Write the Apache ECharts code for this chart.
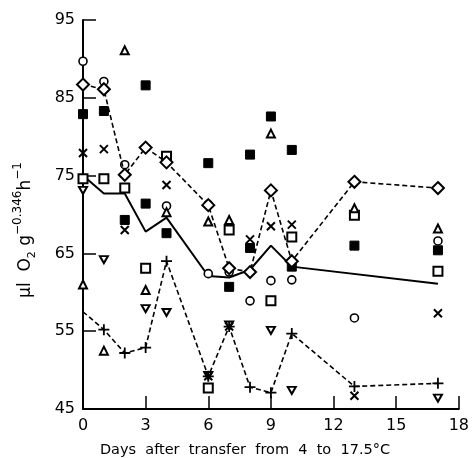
<!DOCTYPE html>
<html>
<head>
<meta charset="utf-8">
<script src="https://cdn.jsdelivr.net/npm/echarts@6/dist/echarts.min.js"></script>
<style>
  html, body { margin: 0; padding: 0; background: #fff; }
  #chart { width: 472px; height: 458px; }
</style>
</head>
<body>
<div id="chart"></div>
<script>
// ---- data: [day, value] ----
const xTicks = [0, 3, 6, 9, 12, 15, 18];
const yTicks = [45, 55, 65, 75, 85, 95];

const meanLine = [[0,75.0],[1,72.7],[2,72.7],[3,67.8],[4,69.6],[6,62.1],[7,61.9],[8,62.9],[9,66.0],[10,63.3],[17,61.1]];
const diamondLine = [[0,86.7],[1,86.1],[2,75.1],[3,78.6],[4,76.7],[6,71.2],[7,63.1],[8,62.6],[9,73.1],[10,64.0],[13,74.2],[17,73.4]];
const plusLine = [[0,57.5],[1,55.2],[2,52.2],[3,52.9],[4,64.0],[6,49.2],[7,55.6],[8,47.8],[9,47.1],[10,54.7],[13,47.9],[17,48.3]];

const openCircles = [[0,89.7],[1,87.1],[2,76.4],[4,71.1],[6,71.3],[6,62.4],[7,62.6],[8,58.9],[9,61.5],[10,61.6],[13,56.7],[17,66.6]];
const filledSquares = [[0,82.9],[1,83.3],[2,69.3],[3,86.6],[3,71.4],[4,67.6],[6,76.6],[7,60.7],[8,77.7],[8,65.7],[9,82.6],[10,78.3],[10,63.3],[13,66.0],[17,65.4]];
const openSquares = [[0,74.6],[1,74.6],[2,73.4],[3,63.1],[4,77.5],[6,47.7],[7,68.0],[9,58.9],[10,67.1],[13,69.9],[17,62.7]];
const openTriangles = [[0,61.0],[1,52.5],[2,91.1],[3,60.3],[4,70.3],[6,69.1],[7,69.3],[9,80.4],[13,70.8],[17,68.2]];
const downTriangles = [[0,73.1],[1,64.2],[3,57.9],[4,57.4],[6,49.3],[7,55.8],[9,55.1],[10,47.4],[17,46.4]];
const crosses = [[0,77.9],[1,78.4],[2,68.0],[4,73.8],[6,49.2],[7,55.6],[8,66.8],[9,68.5],[10,68.7],[13,46.7],[17,57.3]];

const chart = echarts.init(document.getElementById('chart'));
const font = 'DejaVu Sans';

function scatter(data, symbol, size, fill, bw) {
  return {
    type: 'scatter', data: data, symbol: symbol, symbolSize: size, z: 3,
    itemStyle: { color: fill, borderColor: '#000', borderWidth: bw, opacity: 1 },
    emphasis: { disabled: true }
  };
}

const option = {
  animation: false,
  backgroundColor: '#fff',
  grid: { left: 83, right: 4, top: 20, bottom: 49, containLabel: false },
  xAxis: {
    type: 'value', min: 0, max: 18, interval: 3,
    axisLine: { show: true, lineStyle: { color: '#000', width: 2 } },
    axisTick: { show: true, inside: true, length: 13, lineStyle: { color: '#000', width: 1.5 } },
    axisLabel: { color: '#000', fontSize: 16, fontFamily: font, margin: 9,
      formatter: v => xTicks.indexOf(v) >= 0 ? String(v) : '' },
    splitLine: { show: false }
  },
  yAxis: {
    type: 'value', min: 45, max: 95, interval: 10,
    axisLine: { show: true, lineStyle: { color: '#000', width: 2 } },
    axisTick: { show: true, inside: true, length: 13, lineStyle: { color: '#000', width: 1.5 } },
    axisLabel: { color: '#000', fontSize: 16, fontFamily: font, margin: 8,
      formatter: v => yTicks.indexOf(v) >= 0 ? String(v) : '' },
    splitLine: { show: false }
  },
  graphic: [
    {
      type: 'text', x: 26, y: 230, rotation: Math.PI / 2,
      style: {
        text: '{a|μl  O}{s|2}{a| g}{p|−0.346}{a|h}{p|−1}',
        align: 'center', verticalAlign: 'middle', fill: '#000',
        rich: {
          a: { fontSize: 17, fontFamily: font, fill: '#000', lineHeight: 34, verticalAlign: 'middle' },
          s: { fontSize: 11, fontFamily: font, fill: '#000', lineHeight: 34, verticalAlign: 'bottom', padding: [0,0,5,0] },
          p: { fontSize: 12, fontFamily: font, fill: '#000', lineHeight: 34, verticalAlign: 'top', padding: [3,0,0,0] }
        }
      }
    },
    {
      type: 'text', x: 245, y: 450,
      style: { text: 'Days  after  transfer  from  4  to  17.5°C', fontSize: 14.5, fontFamily: font,
        fill: '#000', align: 'center', verticalAlign: 'middle' }
    }
  ],
  series: [
    {
      type: 'line', data: meanLine, symbol: 'none', z: 2,
      lineStyle: { color: '#000', width: 2, type: 'solid' }
    },
    {
      type: 'line', data: diamondLine, symbol: 'diamond', symbolSize: [12, 12], z: 4,
      showAllSymbol: true,
      lineStyle: { color: '#000', width: 1.6, type: [5, 3] },
      itemStyle: { color: '#fff', borderColor: '#000', borderWidth: 2 }
    },
    {
      type: 'line',
      data: plusLine.map((p, i) => i === 0 ? { value: p, symbol: 'none' } : { value: p }),
      symbol: 'path://M5,0L5,10M0,5L10,5', symbolSize: 11, z: 4, showAllSymbol: true,
      lineStyle: { color: '#000', width: 1.6, type: [5, 3] },
      itemStyle: { color: 'rgba(0,0,0,0)', borderColor: '#000', borderWidth: 1.8 }
    },
    scatter(openCircles, 'circle', 8, '#fff', 1.6),
    scatter(filledSquares, 'rect', 9, '#000', 1),
    scatter(openSquares, 'rect', 9, '#fff', 2),
    scatter(openTriangles, 'triangle', 8, '#fff', 2),
    scatter(downTriangles, 'path://M0,0L10,0L5,9Z', [8, 7], '#fff', 2),
    scatter(crosses, 'path://M0,0L10,10M10,0L0,10', 8, 'rgba(0,0,0,0)', 2)
  ]
};
chart.setOption(option);
</script>
</body>
</html>
